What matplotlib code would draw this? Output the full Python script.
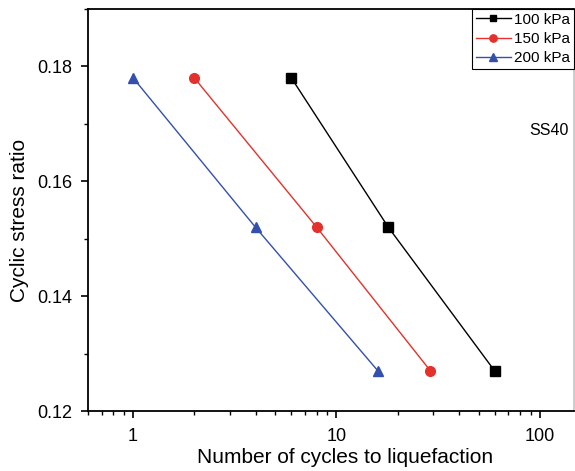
import matplotlib
matplotlib.use("Agg")
import matplotlib.pyplot as plt
from matplotlib.ticker import LogLocator, MultipleLocator, FixedLocator, NullFormatter

plt.rcParams['font.family'] = ['Liberation Sans', 'DejaVu Sans']

csr = [0.178, 0.152, 0.127]
n_100 = [6, 18, 60]
n_150 = [2, 8, 29]
n_200 = [1, 4, 16]
labels = ["100 kPa", "150 kPa", "200 kPa"]

fig = plt.figure(figsize=(5.75, 4.71), dpi=100)
ax = fig.add_axes([0.153, 0.127, 0.845, 0.854])

ax.plot(n_100, csr, '-s', color='black', lw=1.0, ms=6.5, label=labels[0])
ax.plot(n_150, csr, '-o', color='#e3322b', lw=1.0, ms=7, label=labels[1])
ax.plot(n_200, csr, '-^', color='#3350ad', lw=1.0, ms=7.5, label=labels[2])

ax.set_xscale('log')
ax.set_xlim(0.6, 147)
ax.set_ylim(0.12, 0.19)
ax.xaxis.set_major_locator(FixedLocator([1, 10, 100]))
ax.set_xticklabels(['1', '10', '100'])
ax.xaxis.set_minor_locator(LogLocator(base=10, subs=range(2, 10)))
ax.xaxis.set_minor_formatter(NullFormatter())
ax.yaxis.set_major_locator(FixedLocator([0.12, 0.14, 0.16, 0.18]))
ax.set_yticklabels(['0.12', '0.14', '0.16', '0.18'])
ax.yaxis.set_minor_locator(MultipleLocator(0.01))

ax.tick_params(which='major', direction='out', length=5, width=1.2, labelsize=13, pad=6)
ax.tick_params(axis='x', which='major', pad=7)
ax.tick_params(which='minor', direction='out', length=3, width=1.0)
for s in ax.spines.values():
    s.set_linewidth(1.3)
ax.spines['right'].set_color('#c8c8c8')

ax.set_xlabel('Number of cycles to liquefaction', fontsize=15, labelpad=2)
ax.set_ylabel('Cyclic stress ratio', fontsize=15, labelpad=6)
ax.xaxis.label.set_x(0.529)
ax.yaxis.label.set_y(0.473)

ax.text(0.99, 0.699, 'SS40', transform=ax.transAxes, ha='right', va='center', fontsize=11.5)

leg = ax.legend(loc='upper right', bbox_to_anchor=(1.0, 1.0), fontsize=11,
                frameon=True, fancybox=False, edgecolor='black', framealpha=1,
                borderpad=0.25, labelspacing=0.35, handlelength=2.3, handletextpad=0.2,
                borderaxespad=0, markerscale=0.75)
leg.get_frame().set_linewidth(0.8)

fig.savefig('out.png', dpi=100)
